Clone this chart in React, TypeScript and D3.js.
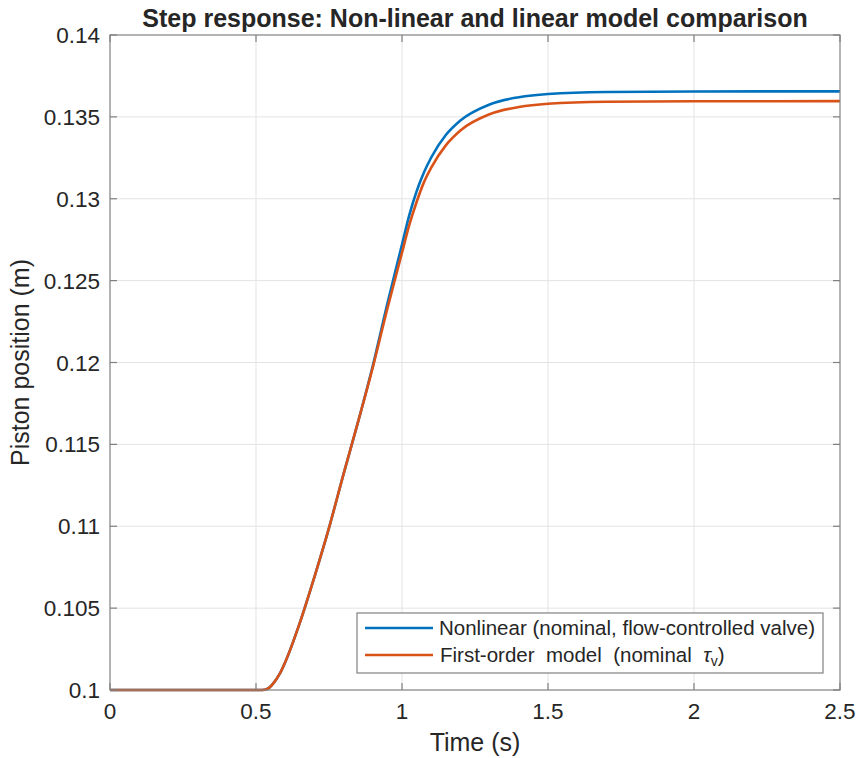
import React from "react";
import * as d3 from "d3";

const timeS = [0, 0.5, 0.52, 0.54, 0.56, 0.58, 0.6, 0.65, 0.7, 0.75, 0.8, 0.85, 0.9, 0.95, 1.0, 1.025, 1.05, 1.075, 1.1, 1.15, 1.2, 1.3, 1.4, 1.5, 1.7, 2.0, 2.5];
const nonlinear = [0.1, 0.1, 0.1, 0.10008, 0.10042, 0.10095, 0.1017, 0.1041, 0.1069, 0.1099, 0.1132, 0.1164, 0.1198, 0.1236, 0.1272, 0.1290, 0.13045, 0.1316, 0.13252, 0.13389, 0.13478, 0.13576, 0.1362, 0.1364, 0.13652, 0.13655, 0.13656];
const firstOrder = [0.1, 0.1, 0.1, 0.10008, 0.10042, 0.10095, 0.1017, 0.1041, 0.1069, 0.1099, 0.1132, 0.1164, 0.1197, 0.1233, 0.1267, 0.1284, 0.1298, 0.1310, 0.1319, 0.13326, 0.13417, 0.13516, 0.1356, 0.1358, 0.13592, 0.13595, 0.13596];
const xTicks = [0, 0.5, 1, 1.5, 2, 2.5];
const yTicks = [0.1, 0.105, 0.11, 0.115, 0.12, 0.125, 0.13, 0.135, 0.14];
const seriesNames = ["Nonlinear (nominal, flow-controlled valve)", "First-order  model  (nominal  "];
const colors = ["#0072BD", "#D95319"];

const W = 858, H = 758;
const L = 110, R = 840, T = 35, B = 690;
const FONT = "'Liberation Sans', Arial, Helvetica, sans-serif";
const TXT = "#262626";
const AX = "#808080";

export default function App() {
  const x = d3.scaleLinear().domain([0, 2.5]).range([L, R]);
  const y = d3.scaleLinear().domain([0.1, 0.14]).range([B, T]);
  const line = d3.line<[number, number]>().x(d => x(d[0])).y(d => y(d[1])).curve(d3.curveMonotoneX);
  const s1 = timeS.map((t, i) => [t, nonlinear[i]] as [number, number]);
  const s2 = timeS.map((t, i) => [t, firstOrder[i]] as [number, number]);
  const tick = 7;
  const fmt = (v: number) => String(+v.toFixed(3));

  return (
    <svg width={W} height={H} style={{ position: "absolute", left: 0, top: 0, background: "#fff" }} fontFamily={FONT}>
      <rect x={0} y={0} width={W} height={H} fill="#fff" />
      {xTicks.slice(1, -1).map(t => (
        <line key={"gx" + t} x1={x(t)} x2={x(t)} y1={T} y2={B} stroke="#e3e3e3" strokeWidth={1} />
      ))}
      {yTicks.slice(1, -1).map(t => (
        <line key={"gy" + t} x1={L} x2={R} y1={y(t)} y2={y(t)} stroke="#e3e3e3" strokeWidth={1} />
      ))}
      <path d={line(s1) || ""} fill="none" stroke={colors[0]} strokeWidth={2.6} />
      <path d={line(s2) || ""} fill="none" stroke={colors[1]} strokeWidth={2.6} />
      <rect x={L} y={T} width={R - L} height={B - T} fill="none" stroke={AX} strokeWidth={1.2} />
      {xTicks.map(t => (
        <g key={"xt" + t}>
          <line x1={x(t)} x2={x(t)} y1={B} y2={B - tick} stroke={AX} strokeWidth={1.2} />
          <line x1={x(t)} x2={x(t)} y1={T} y2={T + tick} stroke={AX} strokeWidth={1.2} />
          <text x={x(t)} y={719} textAnchor="middle" fontSize={22.5} fill={TXT}>{fmt(t)}</text>
        </g>
      ))}
      {yTicks.map(t => (
        <g key={"yt" + t}>
          <line x1={L} x2={L + tick} y1={y(t)} y2={y(t)} stroke={AX} strokeWidth={1.2} />
          <line x1={R} x2={R - tick} y1={y(t)} y2={y(t)} stroke={AX} strokeWidth={1.2} />
          <text x={100} y={y(t)} dy="0.36em" textAnchor="end" fontSize={22.5} fill={TXT}>{fmt(t)}</text>
        </g>
      ))}
      <text x={(L + R) / 2} y={751} textAnchor="middle" fontSize={25} fill={TXT}>Time (s)</text>
      <text transform={`translate(29, ${(T + B) / 2}) rotate(-90)`} textAnchor="middle" fontSize={25} fill={TXT}>Piston position (m)</text>
      <text x={(L + R) / 2} y={26.5} textAnchor="middle" fontSize={25} fontWeight="bold" fill={TXT}>Step response: Non-linear and linear model comparison</text>
      <rect x={357} y={613} width={466} height={60} fill="#fff" stroke={AX} strokeWidth={1.2} />
      <line x1={365} x2={433} y1={628} y2={628} stroke={colors[0]} strokeWidth={2.6} />
      <line x1={365} x2={433} y1={655} y2={655} stroke={colors[1]} strokeWidth={2.6} />
      <text x={439} y={628} dy="0.36em" fontSize={20.5} fill={TXT} style={{ whiteSpace: "pre" }}>{seriesNames[0]}</text>
      <text x={440} y={655} dy="0.36em" fontSize={20.5} fill={TXT} style={{ whiteSpace: "pre" }}>
        {seriesNames[1]}
        <tspan fontStyle="italic">τ</tspan>
        <tspan fontSize={14} dy="4">v</tspan>
        <tspan dy="-4">)</tspan>
      </text>
    </svg>
  );
}
